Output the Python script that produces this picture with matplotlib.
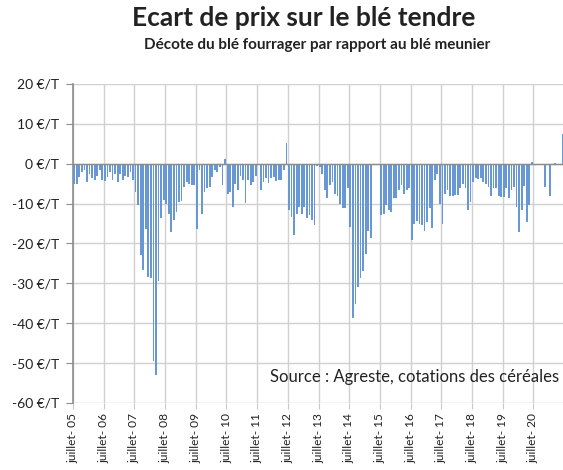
import numpy as np
import matplotlib
matplotlib.use("Agg")
import matplotlib.pyplot as plt

plt.rcParams['font.family'] = ['Lato', 'DejaVu Sans']

# monthly price gap (EUR/T), one list per season july -> june
nan = np.nan
s2005 = [-5, -5, -3.3, -2, -1.5, -4.6, -2.5, -3.5, -4, -3, -1.5, -4.2]
s2006 = [-4.3, -3.3, -2, -4, -2.5, -4.6, -2.5, -4, -3, -3.3, -2, -4]
s2007 = [-7, -10.4, -23, -26.7, -16.3, -28.3, -28.6, -49.4, -53, -29.4, -13.7, -9.2]
s2008 = [-10, -12.7, -17, -14, -12.2, -9.6, -9.4, -5.8, -4.6, -5.2, -5.4, -5.4]
s2009 = [-16.3, -1.5, -12.5, -7, -6.2, -5.8, -3.3, -1.5, -2, -0.8, -5.4, 1.2]
s2010 = [-7.5, -7, -10.8, -5, -6.7, -3, -4.2, -9.8, -4.2, -5.4, -4.6, -3]
s2011 = [-0.3, -6.5, -4.5, -3.5, -4.8, -3.5, -3.3, -4.4, -4.2, -4.2, -1.5, 5.3]
s2012 = [-11.7, -13.3, -17.9, -12.5, -10.8, -12.5, -10.8, -13.6, -12.9, -14.2, -15.3, -0.5]
s2013 = [-0.8, -2.5, -6.7, -8.7, -5.4, -4.7, -7.5, -8.1, -10, -11.2, -11.2, -6.2]
s2014 = [-15.8, -38.6, -35.2, -30.8, -28.6, -27, -22.7, -16.8, -18.6, nan, nan, nan]
s2015 = [-12.9, -12.5, -10.4, -11.7, -12.1, -8.7, -8.6, -6.7, -5.4, -7.5, -6.5, -6]
s2016 = [-19.2, -15, -14.3, -15.2, -15.4, -16.8, -14.6, -11.2, -16.2, -4.2, -2.5, -10]
s2017 = [-15, -7.7, -6.5, -8, -8, -7.9, -7.9, -6.1, -5, -6, -11.5, -9.6]
s2018 = [-4.6, -3.7, -3.9, -3.5, -4.6, -5, -5.8, -8.2, -6, -6.2, -8.2, -8.3]
s2019 = [-8.3, -6, -8.7, -6.5, -5.8, -10.8, -17, -11.7, -5.7, -14.6, -10.4, 0.4]
s2020 = [nan, nan, nan, nan, -5.8, nan, -8, nan, 0.3, nan, nan, 7.5]

seasons = [s2005, s2006, s2007, s2008, s2009, s2010, s2011, s2012,
           s2013, s2014, s2015, s2016, s2017, s2018, s2019, s2020]
years = list(range(5, 21))
tick_labels = ['juillet- %02d' % y for y in years]
y_ticks = [20, 10, 0, -10, -20, -30, -40, -50, -60]

values = np.array([v for s in seasons for v in s], dtype=float)
months = np.arange(len(values))

fig = plt.figure(figsize=(5.63, 4.7), dpi=100)
ax = fig.add_axes([0.1297, 0.1426, 0.8703, 0.6787])

ax.bar(months + 0.45, values, width=0.7, color='#6797d4', zorder=3)

ax.set_xlim(0, 191.6)
ax.set_ylim(-60, 20)
ax.set_yticks(y_ticks)
ax.set_yticklabels(['%d €/T' % v for v in y_ticks], fontsize=10, color='#222222')
ax.set_xticks([12 * i for i in range(len(years))])
ax.set_xticklabels(tick_labels, rotation=90, fontsize=8.6, color='#222222', va='top')

ax.grid(True, color='#d0d0d0', linewidth=1, zorder=0)
ax.axhline(0, color='#8c8c8c', linewidth=1, zorder=4)
for side in ['top', 'right', 'bottom']:
    ax.spines[side].set_visible(False)
ax.spines['left'].set_color('#8c8c8c')
ax.spines['left'].set_linewidth(1.2)
ax.tick_params(axis='y', length=5, color='#8c8c8c', pad=5)
ax.tick_params(axis='x', length=4, color='#c8c8c8', pad=3)

ax.text(0.402, 0.082, 'Source : Agreste, cotations des céréales',
        transform=ax.transAxes, ha='left', va='center', fontsize=12, color='#222222')

fig.text(0.54, 0.962, 'Ecart de prix sur le blé tendre', ha='center', va='center',
         fontsize=19, fontweight='bold', color='#222222')
fig.text(0.563, 0.904, 'Décote du blé fourrager par rapport au blé meunier',
         ha='center', va='center', fontsize=11, fontweight='bold', color='#222222')

fig.savefig('out.png', dpi=100)
